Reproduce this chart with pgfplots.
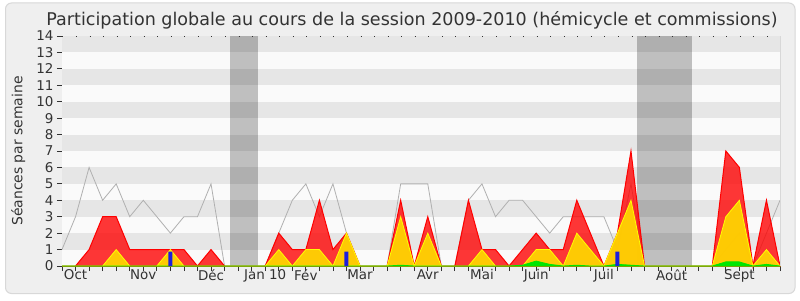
\documentclass[border=0pt]{standalone}
\usepackage{fontspec}
\setmainfont{DejaVu Sans}
\usepackage{pgfplots}
\usepackage{pgfplotstable}
\pgfplotsset{compat=1.18}
\definecolor{bgout}{HTML}{EFEFEF}
\definecolor{framec}{HTML}{D8D8D8}
\definecolor{textc}{HTML}{333333}
\definecolor{banddark}{HTML}{E6E6E6}
\definecolor{bandlight}{HTML}{FAFAFA}
\definecolor{linegray}{HTML}{B0B0B0}
\definecolor{redfill}{HTML}{FF0000}
\definecolor{yelfill}{HTML}{FFD700}
\definecolor{yelline}{HTML}{FFFF00}
\definecolor{grnfill}{HTML}{00E600}
\definecolor{bluebar}{HTML}{1E1EDC}

% week, total (gray line), red, yellow, green
\pgfplotstableread{
w tot red yel grn
0 1 0 0 0
1 3 0 0 0
2 6 1 0 0
3 4 3 0 0
4 5 3 1 0
5 3 1 0 0
6 4 1 0 0
7 3 1 0 0
8 2 1 1 0
9 3 1 0 0
10 3 0 0 0
11 5 1 0 0
12 0 0 0 0
13 0 0 0 0
14 0 0 0 0
15 0 0 0 0
16 2 2 1 0
17 4 1 0 0
18 5 1 1 0
19 3 4 1 0
20 5 1 0 0
21 2 2 2 0
22 0 0 0 0
23 0 0 0 0
24 0 0 0 0
25 5 4 3 0.05
26 5 0 0 0
27 5 3 2 0
28 0 0 0 0
29 0 0 0 0
30 4 4 0 0
31 5 1 1 0
32 3 1 0 0
33 4 0 0 0
34 4 1 0 0.05
35 3 2 1 0.3
36 2 1 1 0.1
37 3 1 0 0
38 3 4 2 0.05
39 3 2 1 0
40 3 0 0 0
41 1 2 2 0.1
42 5 7 4 0.05
43 0 0 0 0
44 0 0 0 0
45 0 0 0 0
46 0 0 0 0
47 0 0 0 0
48 0 0 0 0
49 1 7 3 0.25
50 2 6 4 0.25
51 0 0 0 0
52 2 4 1 0.1
53 4 0 0 0
}\datatable

\pgfplotstableread{
w v
8 0.87
21 0.87
41 0.87
}\bluetable

\begin{document}
\begin{tikzpicture}[x=1bp,y=1bp]
\fill[white] (0,0) rectangle (800,300);
\filldraw[fill=bgout, draw=framec, line width=1bp, rounded corners=6bp] (5.5,6.5) rectangle (795,297);
\node[font=\fontsize{17.6}{20}\selectfont, text=textc, anchor=base] at (412,275) {Participation globale au cours de la session 2009-2010 (hémicycle et commissions)};
\begin{axis}[
  at={(62bp,34bp)}, anchor=south west,
  scale only axis, width=718bp, height=230bp,
  xmin=0, xmax=53, ymin=0, ymax=14,
  axis x line*=bottom, axis y line*=left,
  axis line style={-, draw=textc, line width=0.8bp},
  xtick={0,...,53}, xticklabels={},
  extra x ticks={1,6,11,15,18,22,27,31,35,40,45,50},
  extra x tick labels={Oct,Nov,Déc,Jan 10,Fév,Mar,Avr,Mai,Juin,Juil,Août,Sept},
  extra x tick style={major tick length=0pt},
  ytick={0,...,14},
  tick align=outside,
  major tick length=5bp,
  tick style={draw=textc, line width=0.8bp},
  /pgf/number format/assume math mode=true,
  tick label style={font=\fontsize{13.5}{15}\selectfont, text=textc},
  ylabel={Séances par semaine},
  ylabel style={font=\fontsize{14}{16}\selectfont, text=textc, at={(axis description cs:-0.061,0.5)}, anchor=center},
  clip=false,
]
% background bands
\addplot[draw=none, fill=bandlight, forget plot] coordinates {(0,0) (53,0) (53,14) (0,14)} -- cycle;
\addplot[draw=none, fill=banddark, forget plot] coordinates {(0,13) (53,13) (53,14) (0,14)} -- cycle;
\addplot[draw=none, fill=banddark, forget plot] coordinates {(0,11) (53,11) (53,12) (0,12)} -- cycle;
\addplot[draw=none, fill=banddark, forget plot] coordinates {(0,9) (53,9) (53,10) (0,10)} -- cycle;
\addplot[draw=none, fill=banddark, forget plot] coordinates {(0,7) (53,7) (53,8) (0,8)} -- cycle;
\addplot[draw=none, fill=banddark, forget plot] coordinates {(0,5) (53,5) (53,6) (0,6)} -- cycle;
\addplot[draw=none, fill=banddark, forget plot] coordinates {(0,3) (53,3) (53,4) (0,4)} -- cycle;
\addplot[draw=none, fill=banddark, forget plot] coordinates {(0,1) (53,1) (53,2) (0,2)} -- cycle;
% holidays
\addplot[draw=none, fill=black, fill opacity=0.235, forget plot] coordinates {(12.4,0) (14.45,0) (14.45,14) (12.4,14)} -- cycle;
\addplot[draw=none, fill=black, fill opacity=0.235, forget plot] coordinates {(42.45,0) (46.47,0) (46.47,14) (42.45,14)} -- cycle;
% total line
\addplot[color=linegray, line width=0.8bp, mark=none] table[x=w, y=tot] {\datatable};
% red
\addplot[draw=red, line width=1bp, fill=redfill, fill opacity=0.78, mark=none] table[x=w, y=red] {\datatable} \closedcycle;
% yellow
\addplot[draw=yelline, line width=0.8bp, fill=yelfill, fill opacity=0.92, mark=none] table[x=w, y=yel] {\datatable} \closedcycle;
% green
\addplot[draw=green!90!black, line width=0.8bp, fill=grnfill, mark=none] table[x=w, y=grn] {\datatable} \closedcycle;
% blue bars
\addplot[ybar, bar width=4bp, fill=bluebar, draw=none] table[x=w, y=v] {\bluetable};
% right border and top tick dots
\draw[draw=framec, line width=1bp] (axis cs:53,0) -- (axis cs:53,14);
\draw[draw=textc, line width=0.8bp, dash pattern=on 0.8bp off 12.75bp, dash phase=-0.4bp] (axis cs:0,14) -- (axis cs:53,14);
\end{axis}
\end{tikzpicture}
\end{document}
